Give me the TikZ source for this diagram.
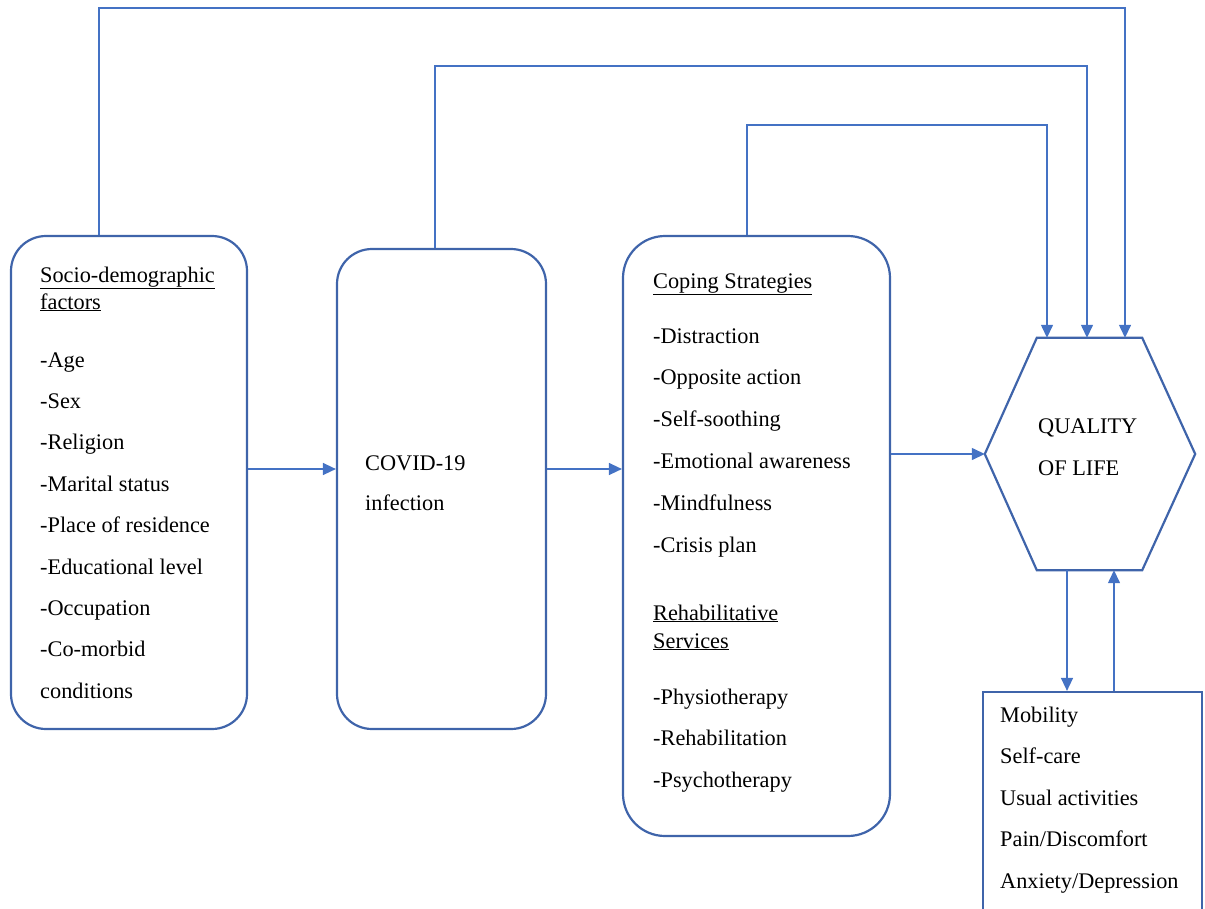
\documentclass[tikz,border=0pt]{standalone}
\usepackage{fontspec}
\setmainfont{Liberation Serif}
\usetikzlibrary{arrows.meta}
\definecolor{boxblue}{RGB}{63,100,170}
\definecolor{lineblue}{RGB}{68,114,196}
\begin{document}
\begin{tikzpicture}[x=1pt,y=-1pt,
  box/.style={draw=boxblue,line width=2.2pt,inner sep=0pt},
  conn/.style={draw=lineblue,line width=1.4pt},
  arr/.style={conn,-{Triangle[length=13pt,width=12pt]}},
  txt/.style={anchor=base west,inner sep=0pt,font=\fontsize{22.3}{26}\selectfont}]
\useasboundingbox (0,0) rectangle (1205,908);
% boxes
\node[box,rounded corners=35pt,minimum width=236pt,minimum height=493pt] (b1) at (129,482.5) {};
\node[box,rounded corners=35pt,minimum width=209pt,minimum height=480pt] (b2) at (441.5,489) {};
\node[box,rounded corners=42pt,minimum width=267pt,minimum height=600pt] (b3) at (756.5,536) {};
\node[inner sep=0pt,minimum width=210pt,minimum height=232pt] (q) at (1090,454) {};
\draw[box] (q.west) -- ([xshift=52pt]q.north west) -- ([xshift=-53pt]q.north east) -- (q.east)
  -- ([xshift=-53pt]q.south east) -- ([xshift=52pt]q.south west) -- cycle;
\node[box,minimum width=219pt,minimum height=240pt] (d) at (1092.5,812) {};
% texts
\node[txt] (h1) at (40,282) {\underline{Socio-demographic}};
\node[txt] (h1b) at (40,309) {\underline{factors}};
\foreach \t [count=\i from 0] in {-Age,-Sex,-Religion,-Marital status,-Place of residence,-Educational level,-Occupation,-Co-morbid,conditions}
  \node[txt] (s\i) at (40,367+41.4*\i) {\t};
\node[txt] (c1) at (365,470) {COVID-19};
\node[txt] (c2) at (365,510) {infection};
\node[txt] (h3) at (653,288) {\underline{Coping Strategies}};
\foreach \t [count=\i from 0] in {-Distraction,-Opposite action,-Self-soothing,-Emotional awareness,-Mindfulness,-Crisis plan}
  \node[txt] (p\i) at (653,343+41.8*\i) {\t};
\node[txt] (h4) at (653,620) {\underline{Rehabilitative}};
\node[txt] (h4b) at (653,648) {\underline{Services}};
\foreach \t [count=\i from 0] in {-Physiotherapy,-Rehabilitation,-Psychotherapy}
  \node[txt] (r\i) at (653,704+41.6*\i) {\t};
\node[txt] (q1) at (1038,433) {QUALITY};
\node[txt] (q2) at (1038,475) {OF LIFE};
\foreach \t [count=\i from 0] in {Mobility,Self-care,Usual activities,Pain/Discomfort,Anxiety/Depression}
  \node[txt] (e\i) at (1000,722+41.6*\i) {\t};
% connectors
\draw[arr] (b1.east |- 0,469) -- (b2.west |- 0,469);
\draw[arr] (b2.east |- 0,469) -- (b3.west |- 0,469);
\draw[arr] (b3.east |- q.west) -- (q.west);
\draw[arr] (b1.north -| 99,0) -- (99,8) -- (1125,8) -- (q.north -| 1125,0);
\draw[arr] (b2.north -| 435,0) -- (435,66) -- (1087,66) -- (q.north -| 1087,0);
\draw[arr] (b3.north -| 747,0) -- (747,125) -- (1047,125) -- (q.north -| 1047,0);
\draw[arr] (q.south -| 1067,0) -- (d.north -| 1067,0);
\draw[arr] (d.north -| 1114,0) -- (q.south -| 1114,0);
\end{tikzpicture}
\end{document}
